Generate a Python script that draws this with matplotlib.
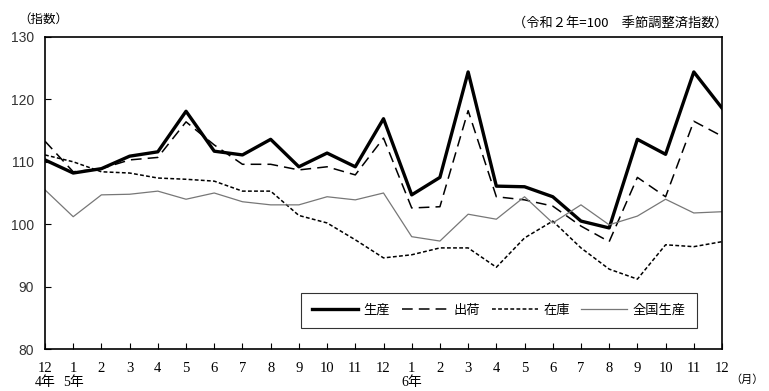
import matplotlib.pyplot as plt

plt.rcParams['font.family'] = ['Liberation Serif', 'Noto Sans CJK JP']

months = ['12', '1', '2', '3', '4', '5', '6', '7', '8', '9', '10', '11', '12',
          '1', '2', '3', '4', '5', '6', '7', '8', '9', '10', '11', '12']
years = {0: '4年', 1: '5年', 13: '6年'}

seisan = [110.3, 108.2, 108.9, 110.9, 111.6, 118.1, 111.7, 111.1, 113.6, 109.2, 111.4, 109.2, 116.9,
          104.7, 107.5, 124.4, 106.1, 106.0, 104.4, 100.5, 99.4, 113.6, 111.2, 124.4, 118.6]
shukka = [113.3, 108.4, 108.9, 110.3, 110.7, 116.4, 112.7, 109.6, 109.6, 108.7, 109.2, 107.9, 113.8,
          102.6, 102.8, 118.2, 104.4, 103.9, 102.9, 99.7, 97.2, 107.5, 104.4, 116.5, 114.1]
zaiko = [111.1, 110.0, 108.4, 108.2, 107.4, 107.2, 106.9, 105.3, 105.3, 101.4, 100.2, 97.5, 94.6,
         95.1, 96.2, 96.2, 93.1, 97.8, 100.5, 96.2, 92.8, 91.2, 96.7, 96.4, 97.2]
zenkoku = [105.5, 101.2, 104.7, 104.8, 105.3, 104.0, 105.0, 103.6, 103.1, 103.1, 104.4, 103.9, 105.0,
           98.0, 97.3, 101.6, 100.8, 104.4, 100.2, 103.1, 99.9, 101.3, 104.0, 101.8, 102.0]

x = list(range(len(months)))

fig = plt.figure(figsize=(7.69, 3.91), dpi=100)
ax = fig.add_axes([0.0585, 0.1074, 0.8804, 0.798])

ax.plot(x, seisan, color='black', lw=2.4, label='生産')
ax.plot(x, shukka, color='black', lw=1.1, dashes=(7, 4), label='出荷')
ax.plot(x, zaiko, color='black', lw=1.1, dashes=(2.5, 1.5), label='在庫')
ax.plot(x, zenkoku, color='#777777', lw=0.9, label='全国生産')

ax.set_xlim(0, 24)
ax.set_ylim(80, 130)
ax.set_xticks(x)
ax.set_xticklabels(months, fontsize=10.5)
ax.set_yticks([80, 90, 100, 110, 120, 130])
ax.set_yticklabels(['80', '90', '100', '110', '120', '130'], fontsize=10,
                   family=['Liberation Sans', 'Noto Sans CJK JP'], color='#333333')
ax.tick_params(axis='both', direction='in', length=4, width=0.8, colors='black')
ax.tick_params(axis='x', pad=9)
ax.tick_params(axis='y', pad=8, labelcolor='#333333')
for s in ax.spines.values():
    s.set_linewidth(1.2)

for i, t in years.items():
    ax.text(i, -0.106, t, transform=ax.get_xaxis_transform(), ha='center', va='center', fontsize=10)
ax.text(1.037, -0.097, '（月）', transform=ax.transAxes, ha='center', va='center', fontsize=8,
        family=['Noto Sans CJK JP'])

fig.text(0.024, 0.95, '（指数）', ha='left', va='center', fontsize=9, family=['Noto Sans CJK JP'])
fig.text(0.946, 0.937, '（令和２年=100　季節調整済指数）', ha='right', va='center', fontsize=9.5,
         family=['Noto Sans CJK JP'])

leg = ax.legend(loc='lower left', bbox_to_anchor=(0.378, 0.067, 0.585, 0.109), mode='expand',
                borderaxespad=0, ncol=4, frameon=True, fancybox=False, edgecolor='black',
                handlelength=3.5, handletextpad=0.4, borderpad=0.85,
                prop={'family': ['Noto Sans CJK JP'], 'size': 9.5})
leg.get_frame().set_linewidth(0.8)

fig.savefig('out.png', dpi=100)
